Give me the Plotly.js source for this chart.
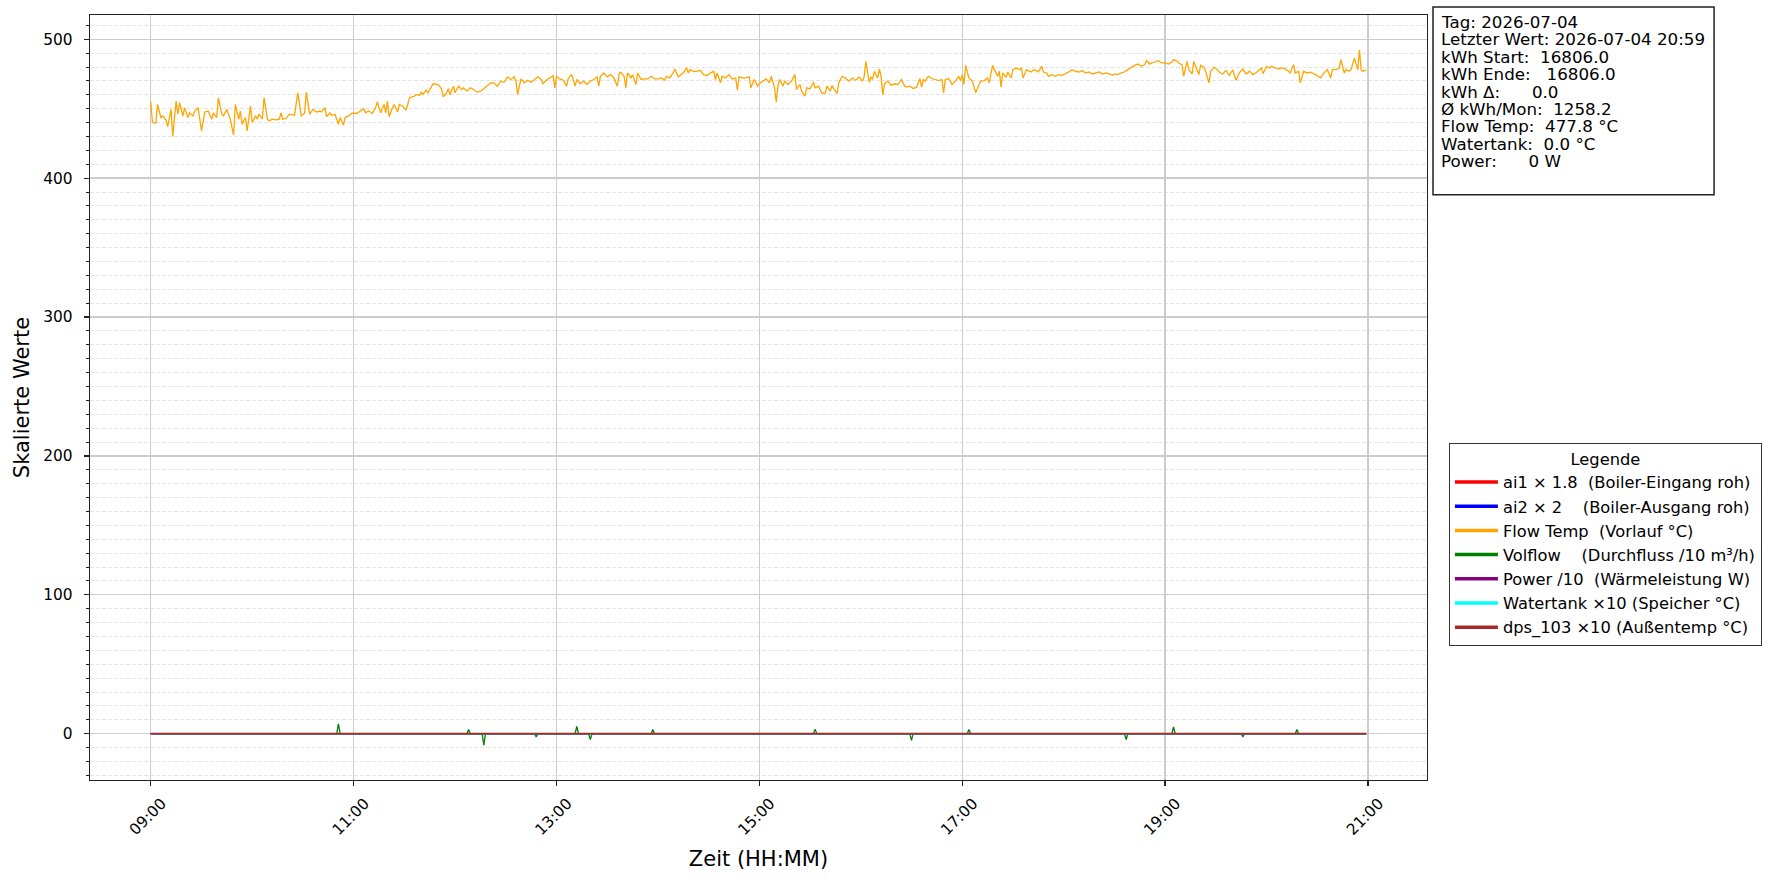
<!DOCTYPE html>
<html><head><meta charset="utf-8">
<script src="https://cdn.plot.ly/plotly-3.0.1.min.js"></script>
<style>html,body{margin:0;padding:0;background:#fff}#chart{width:1782px;height:884px}</style>
</head><body><div id="chart"></div>
<script>
// ---- data (minutes after 09:00 on 2026-07-04) ----
const DAY = '2026-07-04';
const flowMin = [
0,1,3,4,6,7,9,10,12,13,
15,16,17,19,20,22,23,25,26,28,
29,30,32,34,36,37,39,40,42,43,
45,47,49,50,52,53,54,56,57,59,
60,62,63,64,66,67,69,70,72,74,
76,77,78,80,82,84,85,87,89,91,
92,94,96,98,100,101,103,104,106,107,
109,111,112,114,115,117,119,122,124,126,
127,129,131,133,134,136,138,139,140,141,
143,144,146,147,149,151,152,153,156,157,
159,160,161,163,164,166,167,170,172,173,
175,176,177,179,180,182,184,185,187,189,
191,193,195,197,199,201,203,205,207,209,
211,213,215,216,217,219,221,223,225,227,
229,231,232,234,236,238,239,240,242,244,
246,247,249,251,252,254,256,258,260,262,
264,265,266,268,270,272,274,276,277,278,
280,281,282,284,285,287,288,290,292,294,
296,298,300,302,304,305,307,309,310,312,
313,315,317,318,319,321,323,325,327,329,
331,333,334,335,337,338,340,342,344,346,
347,348,350,352,354,355,357,359,360,362,
364,366,367,369,370,371,372,374,375,377,
379,381,382,384,385,387,388,390,392,393,
395,397,399,400,402,403,404,406,407,409,
411,413,415,417,419,421,422,423,425,426,
427,428,430,431,432,433,434,436,438,440,
442,444,446,447,449,451,453,455,456,457,
458,460,462,464,466,468,469,470,472,474,
476,478,479,480,481,482,484,486,487,488,
490,491,493,495,496,498,499,501,502,503,
504,506,507,509,510,512,514,515,516,518,
519,521,522,524,525,527,528,530,531,533,
535,537,539,541,543,545,547,549,551,553,
555,557,559,561,563,565,567,569,570,572,
574,576,578,580,582,584,586,588,589,591,
592,594,596,598,600,602,604,605,607,608,
610,611,613,614,616,617,618,620,621,623,
624,626,627,629,631,632,634,636,638,640,
642,644,646,648,650,652,654,655,657,658,
660,662,663,665,667,669,671,673,674,676,
677,679,680,682,684,686,688,689,692,694,
696,698,699,701,703,704,706,707,709,710,
712,714,715,716,717,719
];
const flowVal = [
455,440,439.5,453,443.6,444.8,441.9,437.1,449.5,430,
455.5,446,454.3,444.8,450.7,443.6,447,444.8,448.3,450.7,
442.4,434,447.6,448.3,442.4,447,443.6,457.9,446,444.8,
449.5,442.4,431,453,442.4,448.3,438.8,443.6,434,451.9,
440,444.8,442.4,446,442.4,457.9,442.4,441.2,442.4,441.9,
442.4,447,442.4,442.9,446,445.2,445.2,461.4,444.8,446.7,
461.9,446,449.5,447.6,448.3,447.6,450.7,444.3,447,445.2,
446,438.8,443.6,438.1,443.6,444.8,446.7,446.7,448.3,450,
447,448.3,446.7,450.7,454.8,447,453,447,455.5,444.3,
450.7,453,447.6,453,451.9,449,453,457.9,459,460.2,
459.5,461.9,460.2,463.3,461.4,465.7,467.9,467.4,464.3,458.6,
461.4,464.3,460.2,466.2,461.4,466.2,463.8,465,462.6,465,
463.8,461.9,462.6,464.3,466.2,468.6,468.6,466.2,469.8,469,
472.9,471,472.9,469.8,460.2,471.4,468.6,470.5,469,471,
472.9,471,468.1,470.5,472.1,473.8,465,473.3,471.4,470.5,
466.2,472.1,474.5,466.2,471,468.1,469.8,467.4,469.8,471,
472.9,466.2,473.3,475.7,472.9,474.5,472.1,466.2,475.2,476.2,
473.3,465,475.7,472.1,474.5,467.4,475.7,471,471.4,471.4,
473.3,471.4,471.4,472.1,470.5,473.3,472.1,475.7,478.6,472.9,
473.8,475.7,479.3,475.7,478.1,476.9,476.9,477.6,474.5,473.8,
475.7,476.9,471,475.7,468.6,473.3,472.1,474.5,471.4,472.1,
463.3,472.9,472.1,472.1,472.9,465,471,466.2,468,469.8,
471.4,468.6,473.3,465,454.8,466.2,471,466.2,469.8,467.4,
469.8,474.5,463.8,467.4,462.6,459,465,464.3,469,465,
466.2,461,461.4,466.2,462.6,466.7,464.3,461,468.6,473.3,
472.1,469.8,472.1,470.5,472.9,469.8,472.9,484,469,472.9,
471,476.9,472.1,478.6,473.3,459.8,467.9,469.8,466.9,467.9,
467.4,471,466.2,465.5,466.2,464.5,465.5,471.7,465.5,471,
469.8,473.3,471.7,471,470.2,471,461.4,471,471.7,467.4,
469.8,473.3,469.8,474.5,467.4,481.2,472.1,469.8,466.2,461.4,
467.4,469.8,470.2,472.1,468.6,481.2,478.1,473.3,476.9,465.5,
475.7,472.6,476.4,472.1,478.1,479.3,478.1,479.3,472.1,478.1,
477.4,476.4,478.1,477.4,476.4,480.5,476.4,475.7,473.3,474.5,
473.3,474.5,474,475,476.4,478.1,476.9,476.4,477.4,475.7,
476.4,475,475.7,476.4,475,475.7,475,474,475,474.5,
475.7,476.4,478.1,479.8,481.2,482.1,480.5,481.7,484.5,482.1,
482.9,483.6,484.5,482.9,482.9,482.1,483.6,485.2,484.5,482.9,
481.7,473.3,484,478.1,475,484,480.5,474.5,481.2,479.8,
476.9,468.6,476.9,479.8,478.1,476.4,475,477.5,474,478,
470.5,476,478.5,475,477,474.5,476,476.9,479.3,475.2,
480.5,479.3,480.5,479.3,478.6,479.3,478.6,476.9,475.7,481.7,
475.7,476.9,468.6,476.9,475.7,476.2,475.2,474.5,472.1,475.7,
478.1,472.1,478.1,478.1,479.3,485.2,475.7,478.1,476.9,478.1,
486.4,478.1,492.4,478.1,476.9,477.8
];
const volMin = [0,110,111,112,187,188,189,196,197,198,227,228,229,251,252,253,259,260,261,296,297,298,392,393,394,449,450,451,483,484,485,576,577,578,604,605,606,645,646,647,677,678,679,719];
const volVal = [0,0,7.1,0,0,3,0,0,-8.3,0,0,-2.4,0,0,5.2,0,0,-4.3,0,0,3,0,0,3.3,0,0,-4.8,0,0,3,0,0,-4.3,0,0,4.8,0,0,-2.4,0,0,3,0,0];
const flatMin = [0,719];
const ai1Val = [0,0];
const ai2Val = [0,0];
const powerVal = [0,0];
const tankVal = [0,0];
const dpsVal = [0,0];

const seriesNames = [
  'ai1 × 1.8  (Boiler-Eingang roh)',
  'ai2 × 2    (Boiler-Ausgang roh)',
  'Flow Temp  (Vorlauf °C)',
  'Volflow    (Durchfluss /10 m³/h)',
  'Power /10  (Wärmeleistung W)',
  'Watertank ×10 (Speicher °C)',
  'dps_103 ×10 (Außentemp °C)'
];
const seriesColors = ['#ff0000','#0000ff','#ffa500','#008000','#800080','#00ffff','#a52a2a'];
const tickMin = [0,120,240,360,480,600,720];
const tickLabels = ['09:00','11:00','13:00','15:00','17:00','19:00','21:00'];
const infoLines = [
  'Tag: 2026-07-04',
  'Letzter Wert: 2026-07-04 20:59',
  'kWh Start:  16806.0',
  'kWh Ende:   16806.0',
  'kWh Δ:      0.0',
  'Ø kWh/Mon:  1258.2',
  'Flow Temp:  477.8 °C',
  'Watertank:  0.0 °C',
  'Power:      0 W'
];

// ---- helpers ----
const pad = n => String(n).padStart(2,'0');
function toTime(m){ const h = 9 + Math.floor(m/60), mm = Math.round(m%60); return DAY+' '+pad(h)+':'+pad(mm)+':00'; }
const nb = s => s.replace(/ /g,'\u00a0');
function secTime(sec){ const h=Math.floor(sec/3600), m=Math.floor((sec%3600)/60), s=sec%60; return DAY+' '+pad(h)+':'+pad(m)+':'+pad(s); }

const seriesX = [flatMin, flatMin, flowMin, volMin, flatMin, flatMin, flatMin];
const seriesY = [ai1Val, ai2Val, flowVal, volVal, powerVal, tankVal, dpsVal];
const widths = [1.5,1.5,1.3,1.3,1.5,1.5,1.8];

const traces = [];
seriesNames.forEach((n,i)=>{
  traces.push({type:'scatter', mode:'lines', x: seriesX[i].map(toTime), y: seriesY[i],
    line:{color:seriesColors[i], width:widths[i]}, showlegend:false, hoverinfo:'skip'});
});
seriesNames.forEach((n,i)=>{
  traces.push({type:'scatter', mode:'lines', x:[null], y:[null], name: nb(n),
    line:{color:seriesColors[i], width:3.5}, legendgroup:'g'+i, showlegend:true});
});

// x-range with matplotlib-like 5% margins on the data span
const spanSec = (flowMin[flowMin.length-1]-flowMin[0])*60;
const startSec = 9*3600 + flowMin[0]*60;
const xr = [secTime(Math.round(startSec - 0.05*spanSec)), secTime(Math.round(startSec + 1.05*spanSec))];
const allY = flowVal.concat(volVal);
const yMin = Math.min(...allY), yMax = Math.max(...allY), ySpan = yMax - yMin;

// info box: one annotation per line (tight line spacing)
const PLOT_TOP = 15, PLOT_H = 765;
const infoAnn = infoLines.map((t,i)=>({xref:'paper', yref:'paper', x:1.009,
  y: 1 - (22 + 17.4*i - PLOT_TOP)/PLOT_H, xanchor:'left', yanchor:'middle',
  align:'left', showarrow:false, text: nb(t), font:{size:16.7, color:'#000'}}));

const axisCol = '#222';
const layout = {
  width:1782, height:884,
  margin:{l:90, r:355, t:15, b:104},
  paper_bgcolor:'#fff', plot_bgcolor:'#fff',
  font:{family:'DejaVu Sans, sans-serif', size:15.4, color:'#000'},
  xaxis:{type:'date', range:xr, tickvals: tickMin.map(toTime), ticktext: tickLabels,
    tickangle:-45, ticks:'outside', ticklen:5, tickwidth:1.2, tickcolor:axisCol,
    ticklabelshift:11, ticklabelstandoff:2,
    showline:true, linecolor:axisCol, linewidth:1.4, mirror:true,
    showgrid:true, gridcolor:'#cccccc', gridwidth:1.3, zeroline:false,
    tickfont:{size:15.4},
    title:{text:'Zeit (HH:MM)', font:{size:21}, standoff:13}},
  yaxis:{range:[yMin-0.05*ySpan, yMax+0.05*ySpan], dtick:100, tick0:0,
    ticks:'outside', ticklen:5, tickwidth:1.2, tickcolor:axisCol, ticklabelstandoff:8,
    minor:{dtick:10, tick0:0, ticks:'outside', ticklen:3, tickwidth:1, tickcolor:axisCol,
      showgrid:true, gridcolor:'#dddddd', gridwidth:0.8, griddash:'4px,2px'},
    showline:true, linecolor:axisCol, linewidth:1.4, mirror:true,
    showgrid:true, gridcolor:'#cccccc', gridwidth:1.3, zeroline:false,
    tickfont:{size:15.4},
    title:{text:'Skalierte Werte', font:{size:21}, standoff:7}},
  legend:{x:1.0164, y:0.4409, xanchor:'left', yanchor:'top', bgcolor:'#fff',
    bordercolor:'#333', borderwidth:1, font:{size:16.3},
    title:{text:'Legende', side:'top center', font:{size:16.3}},
    traceorder:'grouped', tracegroupgap:0, itemwidth:43},
  shapes:[{type:'rect', xref:'paper', yref:'paper', x0:1.00449, x1:1.2147, y0:0.7651, y1:1.0105,
    line:{color:'#222', width:1.5}, fillcolor:'rgba(0,0,0,0)', layer:'above'}],
  annotations: infoAnn
};
Plotly.newPlot('chart', traces, layout, {displayModeBar:false, staticPlot:true});
</script></body></html>
